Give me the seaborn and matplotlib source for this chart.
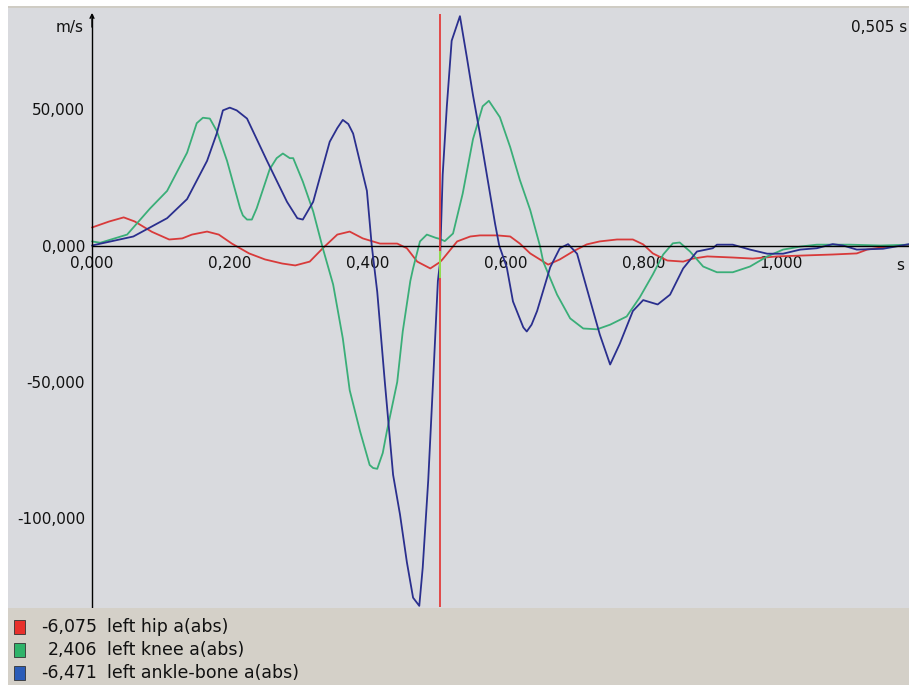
import matplotlib
matplotlib.use("Agg")
import matplotlib.pyplot as plt
from matplotlib.patches import Rectangle
from matplotlib.ticker import FixedLocator, FuncFormatter
import pandas as pd
import seaborn as sns

# ---- recorded joint accelerations (time in s, a(abs) in m/s) ----
joints = ["left hip a(abs)", "left knee a(abs)", "left ankle-bone a(abs)"]
colors = ["#d83a3a", "#3aae78", "#2a2f8e"]
swatch_colors = ["#e8302c", "#2fb36a", "#2a5cb8"]

hip_t = [0.000, 0.025, 0.046, 0.062, 0.087, 0.112, 0.131, 0.145, 0.167, 0.184,
         0.203, 0.228, 0.251, 0.276, 0.295, 0.316, 0.335, 0.356, 0.374, 0.393,
         0.418, 0.443, 0.457, 0.472, 0.491, 0.509, 0.530, 0.549, 0.563, 0.588,
         0.607, 0.621, 0.636, 0.650, 0.662, 0.679, 0.698, 0.718, 0.737, 0.762,
         0.785, 0.800, 0.814, 0.835, 0.858, 0.872, 0.893, 0.930, 0.959, 0.994,
         1.028, 1.075, 1.110, 1.125, 1.154, 1.186]
hip_a = [6.6, 8.8, 10.3, 8.8, 5.0, 2.2, 2.6, 4.0, 5.1, 4.0,
         0.7, -2.9, -5.1, -6.6, -7.3, -5.9, -1.0, 4.0, 5.1, 2.6,
         0.7, 0.7, -1.0, -5.9, -8.4, -5.0, 1.5, 3.3, 3.7, 3.7,
         3.3, 0.7, -2.9, -5.1, -7.0, -5.1, -2.2, 0.4, 1.5, 2.2,
         2.2, 0.4, -2.9, -5.5, -5.9, -4.8, -4.0, -4.4, -4.8, -4.0,
         -3.7, -3.3, -2.9, -1.5, -0.4, 0.0]

knee_t = [0.000, 0.012, 0.051, 0.084, 0.109, 0.138, 0.152, 0.161, 0.171, 0.181,
          0.196, 0.215, 0.219, 0.225, 0.232, 0.239, 0.258, 0.268, 0.277, 0.287,
          0.292, 0.306, 0.321, 0.335, 0.350, 0.364, 0.374, 0.389, 0.403, 0.408,
          0.414, 0.422, 0.428, 0.443, 0.451, 0.462, 0.466, 0.476, 0.486, 0.499,
          0.512, 0.524, 0.538, 0.553, 0.567, 0.576, 0.592, 0.607, 0.621, 0.636,
          0.650, 0.655, 0.675, 0.694, 0.713, 0.733, 0.752, 0.776, 0.795, 0.814,
          0.829, 0.843, 0.853, 0.868, 0.887, 0.907, 0.930, 0.955, 0.980, 1.003,
          1.028, 1.052, 1.100, 1.144, 1.186]
knee_a = [1.5, 1.0, 4.0, 13.5, 20.0, 34.0, 44.8, 46.8, 46.5, 42.0,
          31.0, 13.6, 11.0, 9.5, 9.5, 13.6, 28.0, 32.0, 33.7, 32.0,
          32.0, 23.4, 12.5, -1.0, -14.3, -34.0, -53.0, -68.0, -80.4, -81.5,
          -81.8, -76.0, -68.0, -50.0, -31.5, -13.0, -8.4, 1.5, 4.0, 2.8,
          1.6, 4.4, 19.0, 39.0, 51.0, 53.0, 47.0, 36.0, 24.0, 13.0,
          0.0, -6.0, -18.0, -26.7, -30.4, -30.7, -29.0, -26.0, -19.0, -10.6,
          -3.3, 0.8, 1.1, -2.2, -7.7, -9.8, -9.8, -7.7, -4.0, -1.5,
          -0.4, 0.3, 0.3, 0.0, 0.3]

ankle_t = [0.000, 0.060, 0.109, 0.138, 0.167, 0.181, 0.190, 0.200, 0.210, 0.225,
           0.254, 0.283, 0.298, 0.306, 0.321, 0.345, 0.356, 0.364, 0.372, 0.379,
           0.399, 0.406, 0.414, 0.425, 0.437, 0.447, 0.457, 0.466, 0.475, 0.480,
           0.488, 0.495, 0.502, 0.509, 0.515, 0.522, 0.534, 0.544, 0.553, 0.563,
           0.575, 0.585, 0.591, 0.602, 0.611, 0.626, 0.631, 0.638, 0.646, 0.665,
           0.679, 0.691, 0.704, 0.718, 0.737, 0.752, 0.766, 0.785, 0.800, 0.821,
           0.839, 0.858, 0.878, 0.901, 0.907, 0.930, 0.955, 0.980, 1.003, 1.028,
           1.052, 1.075, 1.090, 1.110, 1.148, 1.186]
ankle_a = [0.0, 3.3, 10.0, 17.0, 31.0, 41.0, 49.5, 50.5, 49.5, 46.5,
           31.0, 16.0, 10.0, 9.5, 16.0, 38.0, 43.0, 46.0, 44.5, 41.0,
           20.0, 0.0, -17.0, -50.0, -84.0, -98.5, -116.0, -129.0, -132.0, -118.0,
           -86.0, -50.0, -13.0, 26.0, 51.0, 75.0, 84.0, 69.0, 55.0, 41.0,
           23.0, 8.0, 0.0, -8.0, -20.5, -30.0, -31.5, -29.0, -24.0, -8.0,
           -1.0, 0.5, -3.0, -15.6, -32.6, -43.6, -36.0, -24.0, -20.0, -21.6,
           -18.0, -8.4, -2.2, -1.0, 0.3, 0.3, -1.5, -3.0, -3.0, -1.5,
           -1.0, 0.5, 0.0, -1.5, -1.2, 0.5]

# cursor position and the values read at it
cursor_t = 0.505
cursor_values = [-6.075, 2.406, -6.471]

x_ticks = [0.0, 0.2, 0.4, 0.6, 0.8, 1.0]
y_ticks = [-100, -50, 0, 50]
x_minor = [0.05, 0.10, 0.15, 0.25, 0.30, 0.35, 0.45, 0.50, 0.55, 0.65, 0.70,
           0.75, 0.85, 0.90, 0.95, 1.05, 1.10, 1.15]
y_minor = [-130, -120, -110, -90, -80, -70, -60, -40, -30, -20, -10,
           10, 20, 30, 40, 60, 70, 80]


def comma(v, _pos=None):
    return f"{v:.3f}".replace(".", ",")


# ---- long-form table, cursor readings merged into each series ----
frames = []
for name, t, a, cv in zip(joints, [hip_t, knee_t, ankle_t],
                          [hip_a, knee_a, ankle_a], cursor_values):
    part = pd.DataFrame({"t": t + [cursor_t], "a": a + [cv], "joint": name})
    frames.append(part.sort_values("t"))
df = pd.concat(frames, ignore_index=True)

sns.set_theme(style="white")
plt.rcParams["font.family"] = ["DejaVu Sans"]

W, H = 909, 685
PX_S = 689.0      # pixels per second
PX_U = 2.73       # pixels per m/s
fig = plt.figure(figsize=(W / 100, H / 100), dpi=100, facecolor="white")
ax = fig.add_axes([8 / W, 77 / H, 901 / W, 601 / H])
ax.set_facecolor("#d9dade")

sns.lineplot(data=df, x="t", y="a", hue="joint", hue_order=joints,
             palette=dict(zip(joints, colors)), estimator=None, sort=True,
             linewidth=1.3, legend=False, ax=ax)

ax.set_xlim(-84 / PX_S, 817 / PX_S)
ax.set_ylim(-362.5 / PX_U, 238.5 / PX_U)
ax.set_xlabel("")
ax.set_ylabel("")

# axes crossing at the origin
for side in ("top", "right"):
    ax.spines[side].set_visible(False)
ax.spines["left"].set_position(("data", 0))
ax.spines["bottom"].set_position(("data", 0))
ax.spines["left"].set_bounds(-362.5 / PX_U, 84.4)
ax.spines["bottom"].set_bounds(0, 817 / PX_S)
for side in ("left", "bottom"):
    ax.spines[side].set_color("black")
    ax.spines[side].set_linewidth(1.0)
ax.annotate("", xy=(0, 85.2), xytext=(0, 80.0),
            arrowprops=dict(arrowstyle="->", color="black", lw=1.0,
                            mutation_scale=7, shrinkA=0, shrinkB=0))

ax.xaxis.set_major_locator(FixedLocator(x_ticks))
ax.yaxis.set_major_locator(FixedLocator(y_ticks))
ax.xaxis.set_minor_locator(FixedLocator(x_minor))
ax.yaxis.set_minor_locator(FixedLocator(y_minor))
ax.xaxis.set_major_formatter(FuncFormatter(comma))
ax.yaxis.set_major_formatter(FuncFormatter(comma))
ax.tick_params(axis="both", which="major", direction="inout", length=7,
               width=1.0, color="black", labelsize=11, labelcolor="#111111")
ax.tick_params(axis="x", which="major", pad=4)
ax.tick_params(axis="y", which="major", pad=1.5)
ax.tick_params(axis="x", which="minor", direction="in", length=2.5, width=1.0,
               color="black")
ax.tick_params(axis="y", which="minor", direction="out", length=2.5, width=1.0,
               color="black")

ax.annotate("m/s", xy=(0, 80.0), xytext=(-6, 0), textcoords="offset points",
            ha="right", va="center", fontsize=11, color="#111111")
ax.annotate("s", xy=(808 / PX_S, 0), xytext=(0, -9), textcoords="offset points",
            ha="center", va="top", fontsize=11, color="#111111")
ax.text(815 / PX_S, 80.0, f"{comma(cursor_t)} s", ha="right", va="center",
        fontsize=11, color="#111111", clip_on=False)

# cursor line
ax.vlines(cursor_t, -361 / PX_U, 84.8, colors="#e23c3c", linewidth=1.3,
          zorder=5)
ax.vlines(cursor_t, -12.0, -2.0, colors="#8ee04e", linewidth=1.4, zorder=6)

# frame strip above the plot and the legend panel below it
fig.add_artist(Rectangle((8 / W, 677 / H), 901 / W, 2 / H,
                         transform=fig.transFigure, facecolor="#cfccc4",
                         edgecolor="none"))
fig.add_artist(Rectangle((8 / W, 0), 901 / W, 77 / H,
                         transform=fig.transFigure, facecolor="#d4d0c8",
                         edgecolor="none"))

row_y = [627, 650, 673]
for name, sw, val, y in zip(joints, swatch_colors, cursor_values, row_y):
    fy = (H - y) / H
    fig.add_artist(Rectangle((14 / W, fy - 7 / H), 11 / W, 14 / H,
                             transform=fig.transFigure, facecolor=sw,
                             edgecolor="#333333", linewidth=0.6))
    fig.text(97 / W, fy, comma(val), ha="right", va="center",
             fontsize=12.5, color="#111111")
    fig.text(107 / W, fy, name, ha="left", va="center",
             fontsize=12.5, color="#111111")

fig.savefig("out.png", dpi=100, facecolor="white")
